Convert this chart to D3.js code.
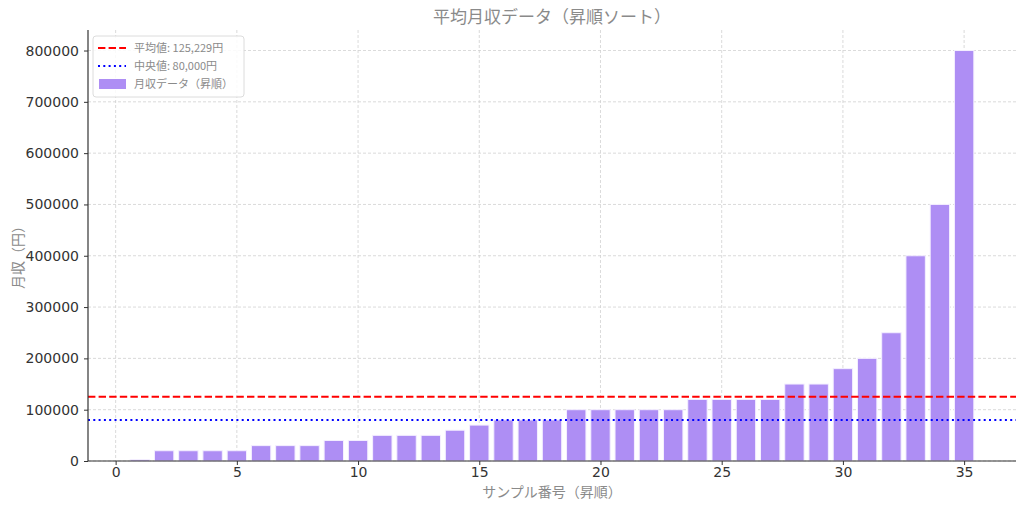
<!DOCTYPE html>
<html>
<head>
<meta charset="utf-8">
<script src="https://cdn.jsdelivr.net/npm/d3@7"></script>
<style>
  body { margin: 0; background: #fff; }
  svg { display: block; }
  .jp { font-family: "Noto Sans CJK JP", "Noto Sans", sans-serif; }
</style>
</head>
<body>
<svg id="chart"></svg>
<script>
// 月収データ（昇順）, サンプル番号 1..35
const sampleIds = d3.range(1, 36);
const incomes = [3000, 20000, 20000, 20000, 20000, 30000, 30000, 30000, 40000, 40000,
                 50000, 50000, 50000, 60000, 70000, 80000, 80000, 80000, 100000, 100000,
                 100000, 100000, 100000, 120000, 120000, 120000, 120000, 150000, 150000, 180000,
                 200000, 250000, 400000, 500000, 800000];
const xTicks = [0, 5, 10, 15, 20, 25, 30, 35];
const yTicks = [0, 100000, 200000, 300000, 400000, 500000, 600000, 700000, 800000];
const meanValue = 125229;
const medianValue = 80000;
const legendLabels = ["平均値: 125,229円", "中央値: 80,000円", "月収データ（昇順）"];

const width = 1024, height = 508;
const margin = {top: 30, right: 8, bottom: 47, left: 88};

const svg = d3.select("#chart").attr("width", width).attr("height", height);

const x = d3.scaleLinear().domain([-1.14, 37.14]).range([margin.left, width - margin.right]);
const y = d3.scaleLinear().domain([0, 840000]).range([height - margin.bottom, margin.top]);

// grid
const grid = svg.append("g");
grid.selectAll(".gx").data(xTicks).enter().append("line")
    .attr("x1", d => x(d)).attr("x2", d => x(d))
    .attr("y1", margin.top).attr("y2", height - margin.bottom)
    .attr("stroke", "#d0d0d0").attr("stroke-width", 0.8).attr("stroke-dasharray", "3,2");
grid.selectAll(".gy").data(yTicks).enter().append("line")
    .attr("x1", margin.left).attr("x2", width - margin.right)
    .attr("y1", d => y(d)).attr("y2", d => y(d))
    .attr("stroke", "#d0d0d0").attr("stroke-width", 0.8).attr("stroke-dasharray", "3,2");

// bars
svg.append("g").selectAll("rect").data(incomes).enter().append("rect")
    .attr("x", (d, i) => x(sampleIds[i] - 0.4))
    .attr("width", x(0.8) - x(0))
    .attr("y", d => y(d))
    .attr("height", d => y(0) - y(d))
    .attr("fill", "#ae8ef4")
    .attr("stroke", "#f4efff")
    .attr("stroke-width", 1);

// mean / median lines
svg.append("line")
    .attr("x1", margin.left).attr("x2", width - margin.right)
    .attr("y1", y(meanValue)).attr("y2", y(meanValue))
    .attr("stroke", "#ff0000").attr("stroke-width", 2).attr("stroke-dasharray", "7.4,3.2");
svg.append("line")
    .attr("x1", margin.left).attr("x2", width - margin.right)
    .attr("y1", y(medianValue)).attr("y2", y(medianValue))
    .attr("stroke", "#0000ff").attr("stroke-width", 2).attr("stroke-dasharray", "2,3.3");

// axes
const xAxis = svg.append("g")
    .attr("transform", `translate(0,${height - margin.bottom})`)
    .call(d3.axisBottom(x).tickValues(xTicks).tickFormat(d3.format("d")).tickSize(4).tickPadding(2));
const yAxis = svg.append("g")
    .attr("transform", `translate(${margin.left},0)`)
    .call(d3.axisLeft(y).tickValues(yTicks).tickFormat(d3.format("d")).tickSize(4).tickPadding(5));
[xAxis, yAxis].forEach(a => {
    a.selectAll("text").attr("font-family", "DejaVu Sans").attr("font-size", 14).attr("fill", "#333");
    a.selectAll("line").attr("stroke", "#333").attr("stroke-width", 1);
    a.select(".domain").attr("stroke", "#333").attr("stroke-width", 1.2);
});
// spines only across plot (no end caps)
xAxis.select(".domain").attr("d", `M${margin.left},0H${width - margin.right}`);
yAxis.select(".domain").attr("d", `M0,${height - margin.bottom}V${margin.top}`);

// title & labels
svg.append("text").attr("class", "jp")
    .attr("x", (margin.left + width - margin.right) / 2).attr("y", 23)
    .attr("text-anchor", "middle").attr("font-size", 17).attr("fill", "#8a8a8a")
    .text("平均月収データ（昇順ソート）");
svg.append("text").attr("class", "jp")
    .attr("x", (margin.left + width - margin.right) / 2).attr("y", 497)
    .attr("text-anchor", "middle").attr("font-size", 14).attr("fill", "#8a8a8a")
    .text("サンプル番号（昇順）");
svg.append("text").attr("class", "jp")
    .attr("transform", `translate(23,254) rotate(-90)`)
    .attr("text-anchor", "middle").attr("font-size", 14).attr("fill", "#8a8a8a")
    .text("月収（円）");

// legend
const lg = svg.append("g").attr("transform", "translate(93,36)");
lg.append("rect").attr("width", 151).attr("height", 61).attr("rx", 3)
    .attr("fill", "#fff").attr("fill-opacity", 0.85).attr("stroke", "#dcdcdc");
const rowY = [12, 30, 48];
lg.append("line").attr("x1", 5).attr("x2", 33).attr("y1", rowY[0]).attr("y2", rowY[0])
    .attr("stroke", "#ff0000").attr("stroke-width", 2).attr("stroke-dasharray", "7.4,3.2");
lg.append("line").attr("x1", 5).attr("x2", 33).attr("y1", rowY[1]).attr("y2", rowY[1])
    .attr("stroke", "#0000ff").attr("stroke-width", 2).attr("stroke-dasharray", "2,3.3");
lg.append("rect").attr("x", 6).attr("y", rowY[2] - 5).attr("width", 27).attr("height", 10)
    .attr("fill", "#ae8ef4");
lg.selectAll(".lt").data(legendLabels).enter().append("text").attr("class", "jp")
    .attr("x", 41).attr("y", (d, i) => rowY[i] + 4)
    .attr("font-size", 11).attr("fill", "#8a8a8a")
    .text(d => d);
</script>
</body>
</html>
